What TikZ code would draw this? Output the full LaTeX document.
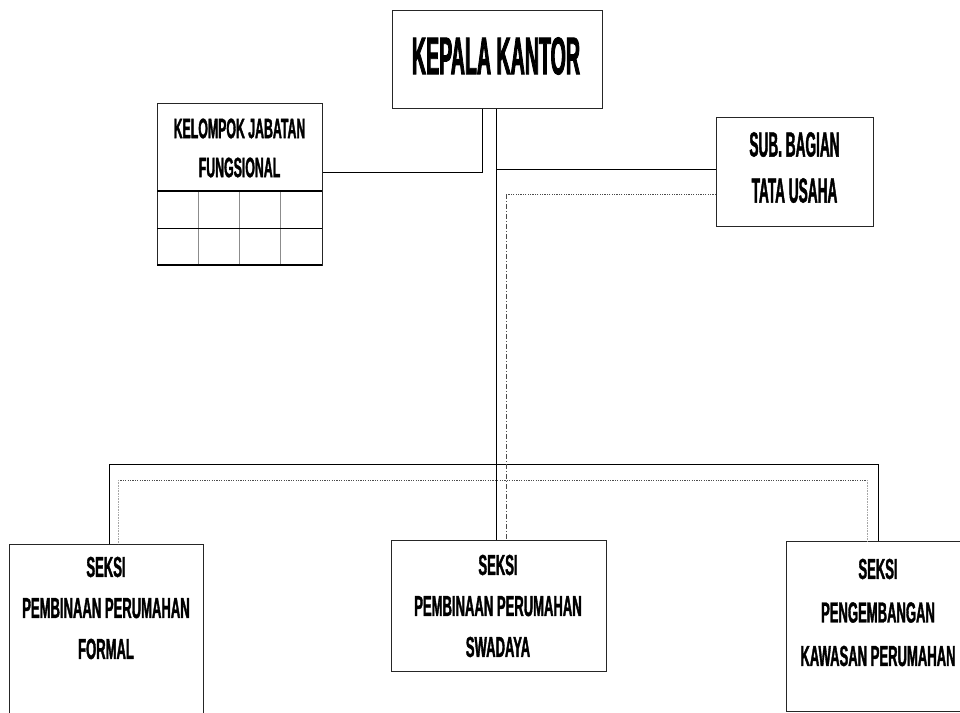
\documentclass[tikz,border=0pt]{standalone}
\usepackage{fontspec}
\setmainfont{Liberation Sans}
\newfontfamily\fK{Liberation Sans}[FakeStretch=0.37,FakeBold=1.5]
\newfontfamily\fJ{Liberation Sans}[FakeStretch=0.44,FakeBold=1.2]
\newfontfamily\fS{Liberation Sans}[FakeStretch=0.39,FakeBold=1.2]
\newfontfamily\fB{Liberation Sans}[FakeStretch=0.45,FakeBold=1.2]
\tikzset{
  box/.style={draw=black!85, line width=0.9pt, inner sep=0pt, anchor=north west, fill=white},
  conn/.style={draw=black, line width=0.9pt},
  dotline/.style={draw=black!70, line width=0.8pt, dash pattern=on 1.2pt off 1.2pt},
  greydot/.style={draw=black!35, line width=0.8pt, dash pattern=on 1pt off 0.6pt},
  dashdot/.style={draw=black!70, line width=0.8pt, dash pattern=on 5pt off 2pt on 1pt off 2pt},
  txt/.style={align=center, inner sep=0pt, text=black},
  grid/.style={draw=black!45, line width=0.7pt},
}
\begin{document}
\begin{tikzpicture}[x=1pt,y=-1pt]
\useasboundingbox (0,0) rectangle (960,712);
\clip (0,0) rectangle (960,712);
\fill[white] (0,0) rectangle (960,712);

% boxes
\node[box, minimum width=210pt, minimum height=98pt] (kk) at (392,10) {};
\node[box, minimum width=165pt, minimum height=162pt] (kj) at (157,103) {};
\node[box, minimum width=157pt, minimum height=109pt] (sb) at (716,117) {};
\node[box, minimum width=194pt, minimum height=200pt] (s1) at (9,544) {};
\node[box, minimum width=215pt, minimum height=131pt] (s2) at (391,540) {};
\node[box, minimum width=184pt, minimum height=170pt] (s3) at (786,541) {};

% Kelompok grid
\draw[grid] (198,191) -- (198,265) (239,191) -- (239,265) (280,191) -- (280,265);
\draw[black, line width=0.9pt] (157,228) -- (322,228);
\draw[black, line width=1.8pt] (157,191) -- (322,191);
\draw[black, line width=1.8pt] (157,265) -- (322,265);

% coordinates for connectors
\coordinate (a1) at (482,172);
\coordinate (b1) at (496,169);
\coordinate (busL) at (109,464);
\coordinate (busR) at (878,464);
\coordinate (d1) at (506,194);
\coordinate (dL) at (118,480);
\coordinate (dR) at (867,480);

% solid connectors
\draw[conn] (kk.south -| a1) -- (a1) -- (kj.east |- a1);
\draw[conn] (kk.south -| b1) -- (s2.north -| b1);
\draw[conn] (b1) -- (sb.west |- b1);
\draw[conn] (busL) -- (busR);
\draw[conn] (busL) -- (s1.north -| busL);
\draw[conn] (busR) -- (s3.north -| busR);

% dotted connectors
\draw[dotline] (sb.west |- d1) -- (d1);
\draw[dashdot] (d1) -- (s2.north -| d1);
\draw[dotline] (dL) -- (dR);
\draw[greydot] (dL) -- (s1.north -| dL);
\draw[greydot] (dR) -- (s3.north -| dR);

% texts
\node[txt, font=\fK\bfseries\fontsize{53}{60}\selectfont] (t0) at (496,56) {KEPALA KANTOR};
\node[txt, font=\fJ\bfseries\fontsize{28}{39}\selectfont] (t1) at (239.5,148) {KELOMPOK JABATAN\\FUNGSIONAL};
\node[txt, font=\fS\bfseries\fontsize{35}{46}\selectfont] (t2) at (794.5,167.5) {SUB. BAGIAN\\TATA USAHA};
\node[txt, font=\fB\bfseries\fontsize{29}{41}\selectfont] (t3) at (106,608) {SEKSI\\PEMBINAAN PERUMAHAN\\FORMAL};
\node[txt, font=\fB\bfseries\fontsize{29}{41}\selectfont] (t4) at (498,606) {SEKSI\\PEMBINAAN PERUMAHAN\\SWADAYA};
\node[txt, font=\fB\bfseries\fontsize{29}{43.5}\selectfont] (t5) at (878,612.5) {SEKSI\\PENGEMBANGAN\\KAWASAN PERUMAHAN};
\end{tikzpicture}
\end{document}
